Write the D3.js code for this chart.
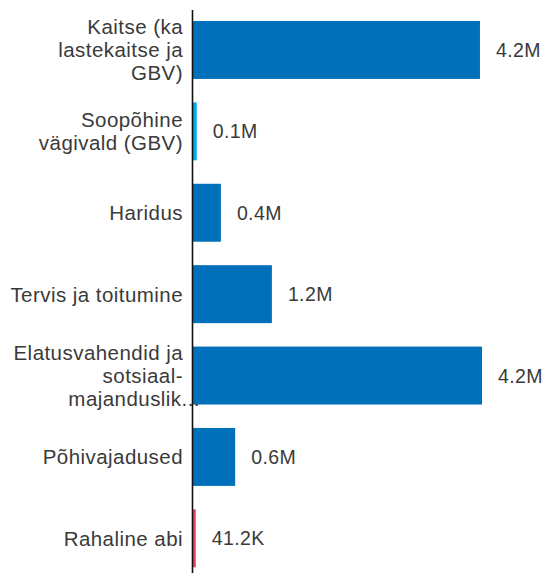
<!DOCTYPE html>
<html>
<head>
<meta charset="utf-8">
<script src="https://cdn.jsdelivr.net/npm/d3@7"></script>
<style>
	body { margin: 0; background: #fff; }
	svg { display: block; }
</style>
</head>
<body>
<div id="chart"></div>
<script>
// bar chart, horizontal

const categories = [
	["Kaitse (ka", "lastekaitse ja", "GBV)"],
	["Soopõhine", "vägivald (GBV)"],
	["Haridus"],
	["Tervis ja toitumine"],
	["Elatusvahendid ja", "sotsiaal-", "majanduslik..."],
	["Põhivajadused"],
	["Rahaline abi"]
];
const values = [4220000, 55000, 410000, 1160000, 4250000, 620000, 41200];
const valueLabels = ["4.2M", "0.1M", "0.4M", "1.2M", "4.2M", "0.6M", "41.2K"];
const barColors = ["#0070ba", "#00aeef", "#0070ba", "#0070ba", "#0070ba", "#0070ba", "#ea4560"];

const width = 545;
const height = 573;
const axisX = 193;

const svg = d3.select("#chart").append("svg")
	.attr("width", width)
	.attr("height", height)
	.style("font-family", "'Liberation Sans', Arial, sans-serif");

const idx = d3.range(values.length);

const x = d3.scaleLinear()
	.domain([0, 5000000])
	.range([axisX, axisX + 340]);

const y = d3.scaleBand()
	.domain(idx)
	.range([10, 578.3])
	.paddingInner(0.288)
	.paddingOuter(0.135);

// bars
svg.selectAll("rect.bar")
	.data(idx)
	.join("rect")
	.attr("class", "bar")
	.attr("x", x(0))
	.attr("y", i => y(i))
	.attr("width", i => x(values[i]) - x(0))
	.attr("height", y.bandwidth())
	.attr("fill", i => barColors[i]);

// value labels
svg.selectAll("text.val")
	.data(idx)
	.join("text")
	.attr("class", "val")
	.attr("x", i => x(values[i]) + 16)
	.attr("y", i => y(i) + y.bandwidth() / 2)
	.attr("dy", "0.36em")
	.attr("fill", "#3a3a3a")
	.style("font-size", "19.5px")
	.style("letter-spacing", "0.4px")
	.text(i => valueLabels[i]);

// category labels, wrapped lines
const lineH = 23;
const catG = svg.selectAll("text.cat")
	.data(idx)
	.join("text")
	.attr("class", "cat")
	.attr("text-anchor", "end")
	.attr("fill", "#3a3a3a")
	.style("font-size", "20.5px")
	.style("letter-spacing", "0.45px");

catG.each(function(i) {
	const lines = categories[i];
	const cy = y(i) + y.bandwidth() / 2;
	const top = cy - (lines.length - 1) * lineH / 2;
	d3.select(this).selectAll("tspan")
		.data(lines)
		.join("tspan")
		.attr("x", d => d.endsWith("...") ? 200 : 183)
		.attr("y", (d, j) => top + j * lineH)
		.attr("dy", "0.36em")
		.text(d => d);
});

// axis line
svg.append("line")
	.attr("x1", axisX - 0.5)
	.attr("x2", axisX - 0.5)
	.attr("y1", 10)
	.attr("y2", height)
	.attr("stroke", "#111")
	.attr("stroke-width", 1.6);
</script>
</body>
</html>
